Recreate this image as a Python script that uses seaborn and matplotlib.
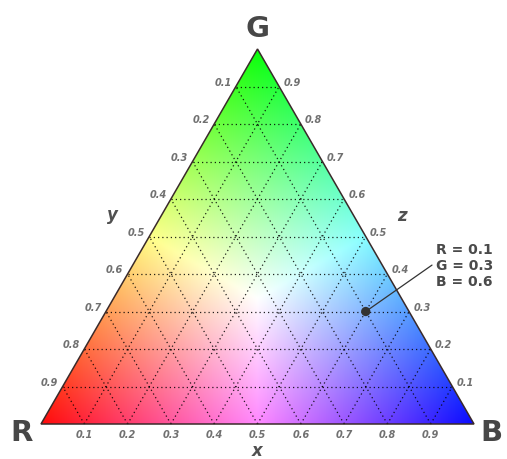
import numpy as np
import seaborn as sns
import matplotlib.pyplot as plt
from matplotlib.patches import Polygon
import pandas as pd

# grid / tick values
ticks = [0.1, 0.2, 0.3, 0.4, 0.5, 0.6, 0.7, 0.8, 0.9]
x_labels = ['0.1', '0.2', '0.3', '0.4', '0.5', '0.6', '0.7', '0.8', '0.9']
y_labels = ['0.1', '0.2', '0.3', '0.4', '0.5', '0.6', '0.7', '0.8', '0.9']
z_labels = ['0.9', '0.8', '0.7', '0.6', '0.5', '0.4', '0.3', '0.2', '0.1']
corners = ['R', 'G', 'B']

# the marked sample
point_r = [0.1]
point_g = [0.3]
point_b = [0.6]

H = np.sqrt(3) / 2


def to_xy(r, g, b):
    # R at (0,0), B at (1,0), G at (0.5, H)
    r, g, b = np.asarray(r, float), np.asarray(g, float), np.asarray(b, float)
    s = r + g + b
    return (b + 0.5 * g) / s, H * g / s


sns.set_theme(style='white')
plt.rcParams['font.family'] = ['DejaVu Sans']

fig = plt.figure(figsize=(5.07, 4.59), dpi=100)
ax = fig.add_axes([0, 0, 1, 1])
ax.set_xlim(-41 / 433, 466 / 433)
ax.set_ylim(-35 / 433, 424 / 433)
ax.set_aspect('equal')
ax.axis('off')

# colour field: each point coloured by its (R, G, B) share, lifted towards white
n = 500
xs = np.linspace(0, 1, n)
ys = np.linspace(0, H, int(n * H))
X, Y = np.meshgrid(xs, ys)
G = Y / H
B = X - 0.5 * G
R = 1 - G - B
comp = np.clip(np.dstack([R, G, B]), 0, None)
mx = comp.max(axis=2, keepdims=True)
lift = 1.05 * (1 - mx) + 0.04
rgb = (comp + lift) / (mx + lift)
img = ax.imshow(rgb, extent=[0, 1, 0, H], origin='lower', interpolation='bilinear')
tri = Polygon([[0, 0], [1, 0], [0.5, H]], closed=True, facecolor='none',
              edgecolor='#3a2a2a', linewidth=1.1, zorder=4)
ax.add_patch(tri)
img.set_clip_path(tri)

# dotted grid
grid_kw = dict(color='black', linestyle=(0, (1, 2.4)), linewidth=0.9, alpha=0.85, zorder=3)
for t in ticks:
    # constant G
    p = to_xy([1 - t, 0], [t, t], [0, 1 - t])
    ax.plot(p[0], p[1], **grid_kw)
    # constant B
    p = to_xy([1 - t, 0], [0, 1 - t], [t, t])
    ax.plot(p[0], p[1], **grid_kw)
    # constant R
    p = to_xy([t, t], [0, 1 - t], [1 - t, 0])
    ax.plot(p[0], p[1], **grid_kw)

tick_kw = dict(fontsize=7, fontstyle='italic', fontweight='bold', color='#707070')
for t, xl, yl, zl in zip(ticks, x_labels, y_labels, z_labels):
    ax.text(t, -0.015, xl, ha='center', va='top', **tick_kw)
    gx, gy = to_xy(t, 1 - t, 0)
    ax.text(gx - 0.01, gy + 0.009, yl, ha='right', va='center', **tick_kw)
    bx, by = to_xy(0, 1 - t, t)
    ax.text(bx + 0.01, by + 0.009, zl, ha='left', va='center', **tick_kw)

big_kw = dict(fontsize=21, fontweight='bold', color='#474747', ha='center', va='center')
ax.text(0.5, H + 0.047, corners[1], **big_kw)
ax.text(-0.045, -0.02, corners[0], **big_kw)
ax.text(1.04, -0.02, corners[2], **big_kw)

axis_kw = dict(fontsize=12, fontweight='bold', fontstyle='italic', color='#505050',
               ha='center', va='center')
ax.text(0.166, 0.482, 'y', **axis_kw)
ax.text(0.834, 0.48, 'z', **axis_kw)
ax.text(0.5, -0.062, 'x', **axis_kw)

# marked point with leader line
px, py = to_xy(point_r, point_g, point_b)
pts = pd.DataFrame({'x': px, 'y': py})
sns.scatterplot(data=pts, x='x', y='y', ax=ax, s=45, color='#333333',
                edgecolor='none', zorder=6, legend=False)
ax.plot([px[0], 0.903], [py[0], 0.367], color='#333333', linewidth=0.9, zorder=6)
ax.text(0.912, 0.365,
        'R = %.1f\nG = %.1f\nB = %.1f' % (point_r[0], point_g[0], point_b[0]),
        fontsize=10, fontweight='bold', color='#4a4a4a', ha='left', va='center',
        linespacing=1.15)

fig.savefig('out.png', dpi=100)
